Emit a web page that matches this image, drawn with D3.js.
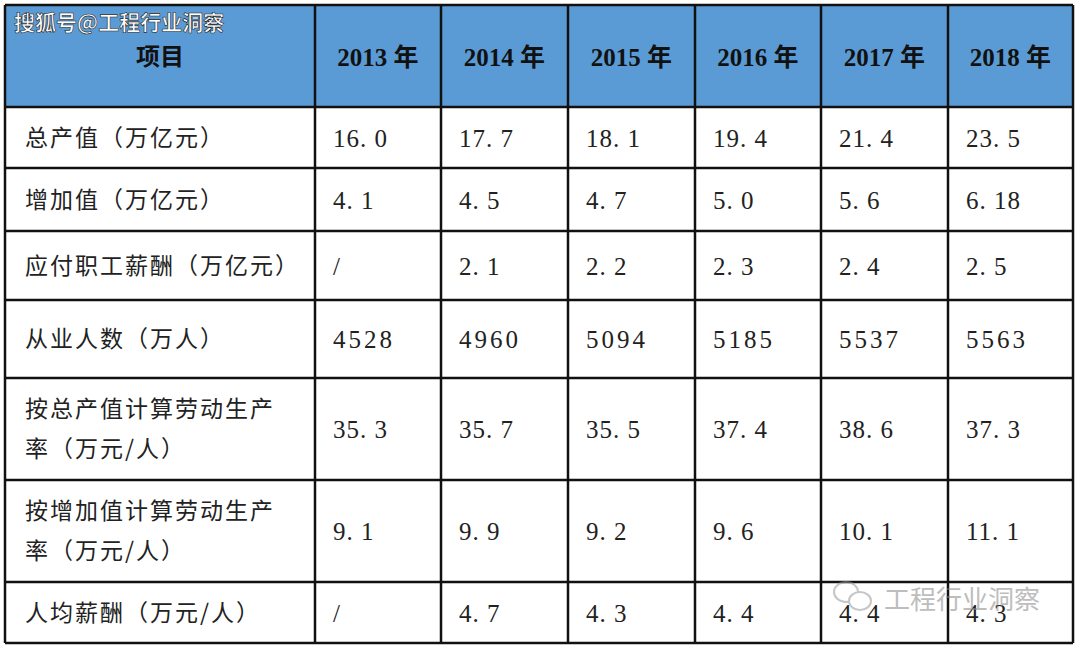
<!DOCTYPE html>
<html><head><meta charset="utf-8">
<script src="https://cdn.jsdelivr.net/npm/d3@7"></script>
<style>body{margin:0;background:#fff}</style></head>
<body><svg id="c" width="1080" height="649"></svg>
<script>
const years = ["2013 年","2014 年","2015 年","2016 年","2017 年","2018 年"];
const items = [["总产值（万亿元）"],["增加值（万亿元）"],["应付职工薪酬（万亿元）"],["从业人数（万人）"],["按总产值计算劳动生产","率（万元/人）"],["按增加值计算劳动生产","率（万元/人）"],["人均薪酬（万元/人）"]];
const v1 = ["16.0","17.7","18.1","19.4","21.4","23.5"];
const v2 = ["4.1","4.5","4.7","5.0","5.6","6.18"];
const v3 = ["/","2.1","2.2","2.3","2.4","2.5"];
const v4 = ["4528","4960","5094","5185","5537","5563"];
const v5 = ["35.3","35.7","35.5","37.4","38.6","37.3"];
const v6 = ["9.1","9.9","9.2","9.6","10.1","11.1"];
const v7 = ["/","4.7","4.3","4.4","4.4","4.3"];
const values = [v1,v2,v3,v4,v5,v6,v7];

const svg = d3.select("#c");
const colEdges = [5,315,441,568,695,821,948,1073];
const rowEdges = [5,107,168,231,300,378,480,582,643];
const cjk = "'Noto Sans CJK SC', sans-serif";
const serif = "'Liberation Serif', 'Noto Sans CJK SC', serif";
svg.append("rect").attr("x",5).attr("y",5).attr("width",1068).attr("height",102).attr("fill","#5b9bd5");
svg.append("text").attr("x",160).attr("y",65).attr("text-anchor","middle").attr("font-family",cjk).attr("font-weight","bold").attr("font-size",24).attr("fill","#111").text("项目");
svg.selectAll("text.yr").data(years).join("text").attr("class","yr")
  .attr("x",(d,i)=>(colEdges[i+1]+colEdges[i+2])/2).attr("y",66).attr("text-anchor","middle")
  .attr("font-family",serif).attr("font-weight","bold").attr("font-size",25).attr("fill","#111").text(d=>d);
items.forEach((lines,r)=>{
  const y0=rowEdges[r+1], y1=rowEdges[r+2], mid=(y0+y1)/2;
  const n=lines.length;
  lines.forEach((t,k)=>{
    svg.append("text").attr("x",25).attr("y",mid+8+(k-(n-1)/2)*40).attr("font-family",cjk).attr("font-size",23).attr("fill","#222").attr("letter-spacing",2).text(t);
  });
  values[r].forEach((v,c)=>{
    const isInt = !v.includes(".");
    svg.append("text").attr("x",colEdges[c+1]+18).attr("y",mid+9).attr("font-family",serif).attr("font-size",25).attr("letter-spacing",isInt?3:1).attr("fill","#222").text(v.replace(".",". "));
  });
});
colEdges.forEach(x=>svg.append("line").attr("x1",x).attr("x2",x).attr("y1",5).attr("y2",643).attr("stroke","#111").attr("stroke-width",2.5));
rowEdges.forEach(y=>svg.append("line").attr("x1",5).attr("x2",1073).attr("y1",y).attr("y2",y).attr("stroke","#111").attr("stroke-width",2.5));
svg.append("text").attr("x",14).attr("y",30).attr("font-family",cjk).attr("font-weight","bold").attr("font-size",21).attr("fill","#fff").attr("stroke","#222").attr("stroke-width",0.6).text("搜狐号@工程行业洞察");
const g=svg.append("g").attr("opacity",0.55);
g.append("ellipse").attr("cx",846).attr("cy",592).attr("rx",12).attr("ry",10).attr("fill","none").attr("stroke","#999").attr("stroke-width",2);
g.append("ellipse").attr("cx",860).attr("cy",601).attr("rx",11).attr("ry",9).attr("fill","#fff").attr("stroke","#999").attr("stroke-width",2);
g.append("text").attr("x",884).attr("y",609).attr("font-family",cjk).attr("font-size",26).attr("fill","#888").text("工程行业洞察");
</script></body></html>
